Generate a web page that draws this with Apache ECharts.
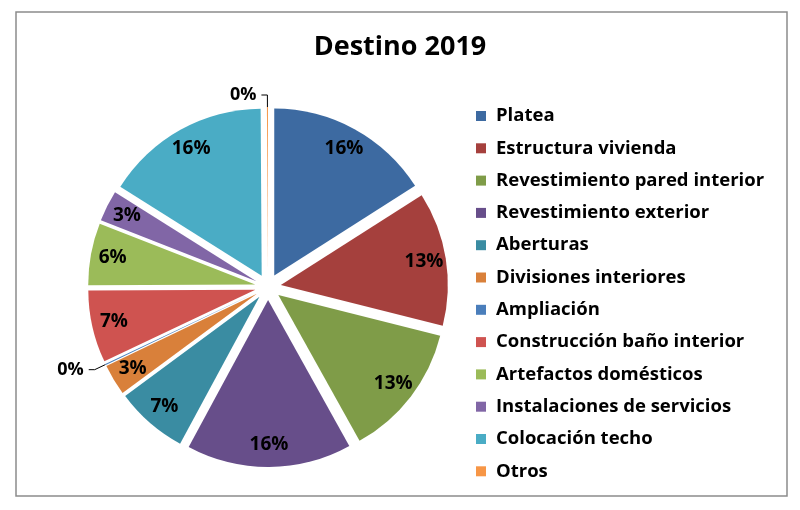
<!DOCTYPE html>
<html>
<head>
<meta charset="UTF-8">
<title>Destino 2019</title>
<script src="https://cdn.jsdelivr.net/npm/echarts@6/dist/echarts.min.js"></script>
<style>
html,body{margin:0;padding:0;background:#fff;}
#chart{width:800px;height:510px;}
</style>
</head>
<body>
<div id="chart"></div>
<script>
// datos (porcentajes)
var categorias = ['Platea', 'Estructura vivienda', 'Revestimiento pared interior', 'Revestimiento exterior',
	'Aberturas', 'Divisiones interiores', 'Ampliación', 'Construcción baño interior',
	'Artefactos domésticos', 'Instalaciones de servicios', 'Colocación techo', 'Otros'];
var valores = [16, 13, 13, 16, 7, 3, 0.1, 7, 6, 3, 16, 0.1];

var fuente = '"Open Sans", Lato, sans-serif';
var centro = [268, 287];

function fmt(p){
	return Math.round(p.percent) + '%';
}

var chart = echarts.init(document.getElementById('chart'));

// serie principal: porciones + etiquetas de los 0%
var datosPie = categorias.map(function(c, i){
	var chico = valores[i] < 1;
	return {name: c, value: valores[i], selected: true,
		label: {show: chico}, labelLine: {show: chico}};
});
// serie transparente solo para ubicar las etiquetas cerca del borde
var datosEtiq = categorias.map(function(c, i){
	return {name: c, value: valores[i], selected: true,
		label: {show: valores[i] >= 1}};
});

var option = {
	animation: false,
	color: ['#3d6aa1', '#a5403d', '#7f9c48', '#674e8a', '#3a8ca2', '#d9803a',
		'#4a7ebb', '#cf5350', '#9bbb59', '#8166a6', '#4aacc5', '#f79646'],
	title: {
		text: 'Destino 2019',
		left: 'center',
		top: 29,
		textStyle: {fontFamily: fuente, fontSize: 27, fontWeight: 'bold', color: '#000'}
	},
	legend: {
		data: categorias,
		orient: 'vertical',
		left: 471,
		top: 101,
		icon: 'rect',
		itemWidth: 10,
		itemHeight: 10,
		itemGap: 12.3,
		selectedMode: false,
		textStyle: {fontFamily: fuente, fontSize: 18.5, fontWeight: 'bold', color: '#000',
			lineHeight: 20, padding: [0, 0, 0, 5]}
	},
	graphic: [{
		type: 'rect', silent: true, z: -1,
		shape: {x: 16, y: 12, width: 771, height: 484},
		style: {fill: 'none', stroke: '#8c8c8c', lineWidth: 1.5}
	}],
	series: [
		{
			type: 'pie',
			name: 'Destino 2019',
			center: centro,
			radius: 167,
			startAngle: 90,
			selectedMode: 'multiple',
			selectedOffset: 13,
			avoidLabelOverlap: false,
			emphasis: {disabled: true},
			label: {position: 'outside', formatter: fmt, fontFamily: fuente,
				fontSize: 18, fontWeight: 'bold', color: '#000'},
			labelLine: {length: 12, length2: 6, lineStyle: {color: '#000', width: 1}},
			data: datosPie
		},
		{
			type: 'pie',
			name: 'etiquetas',
			center: centro,
			radius: [117, 167],
			startAngle: 90,
			selectedMode: 'multiple',
			selectedOffset: 13,
			silent: true,
			emphasis: {disabled: true},
			itemStyle: {color: 'rgba(0,0,0,0)'},
			label: {position: 'inside', formatter: fmt, fontFamily: fuente,
				fontSize: 19, fontWeight: 'bold', color: '#000'},
			labelLine: {show: false},
			data: datosEtiq
		}
	]
};
chart.setOption(option);
</script>
</body>
</html>
